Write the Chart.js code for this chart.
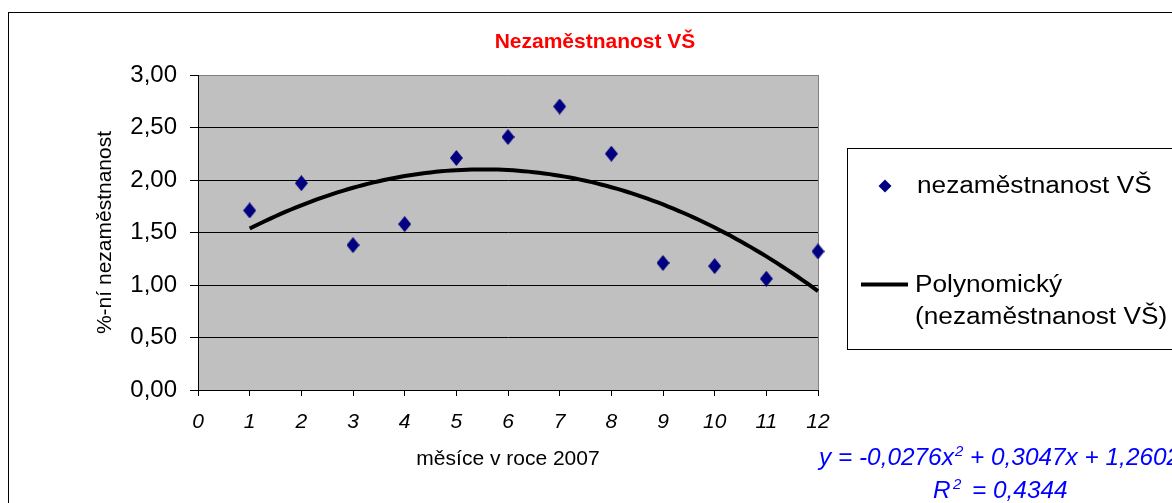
<!DOCTYPE html>
<html>
<head>
<meta charset="utf-8">
<script src="https://cdn.jsdelivr.net/npm/chart.js@4.4.1/dist/chart.umd.min.js"></script>
<style>
  html, body { margin: 0; padding: 0; background: #fff; }
</style>
</head>
<body>
<canvas id="unempChart" width="1172" height="503"></canvas>
<script>
// data
var months = [1, 2, 3, 4, 5, 6, 7, 8, 9, 10, 11, 12];
var unemployment = [1.71, 1.97, 1.38, 1.58, 2.21, 2.41, 2.70, 2.25, 1.21, 1.18, 1.06, 1.32];
// polynomial trend printed on the chart: a*x^2 + b*x + c
var trendCoefs = [-0.0276, 0.3047, 1.2602];
var trendR2 = '0,4344';
var xTicks = [0, 1, 2, 3, 4, 5, 6, 7, 8, 9, 10, 11, 12];
var yTicks = [0, 0.5, 1, 1.5, 2, 2.5, 3];

var FONT = "'Liberation Sans', Arial, sans-serif";
Chart.defaults.font.family = FONT;
Chart.defaults.color = '#000';

var points = months.map(function (m, i) { return { x: m, y: unemployment[i] }; });

var trend = [];
for (var t = months[0]; t <= months[months.length - 1] + 1e-9; t += 0.1) {
  trend.push({ x: t, y: trendCoefs[0] * t * t + trendCoefs[1] * t + trendCoefs[2] });
}

function diamond(w, h, color) {
  var c = document.createElement('canvas');
  c.width = w; c.height = h;
  var g = c.getContext('2d');
  g.fillStyle = color;
  g.beginPath();
  g.moveTo(w / 2, 0); g.lineTo(w, h / 2); g.lineTo(w / 2, h); g.lineTo(0, h / 2);
  g.closePath(); g.fill();
  return c;
}

// text a bit wider than the font, like the original
function wideText(ctx, txt, x, y, sx) {
  ctx.save();
  ctx.translate(x, y);
  ctx.scale(sx, 1);
  ctx.fillText(txt, 0, 0);
  ctx.restore();
}

var decor = {
  id: 'decor',
  beforeDraw: function (chart) {
    var ctx = chart.ctx, a = chart.chartArea;
    ctx.save();
    ctx.fillStyle = '#fff';
    ctx.fillRect(0, 0, chart.width, chart.height);
    ctx.strokeStyle = '#000';
    ctx.lineWidth = 1;
    ctx.strokeRect(8.5, 12.5, 1400, 700);
    ctx.fillStyle = '#c0c0c0';
    ctx.fillRect(a.left, a.top, a.right - a.left, a.bottom - a.top);
    ctx.restore();
  },
  beforeDatasetsDraw: function (chart) {
    var ctx = chart.ctx, a = chart.chartArea;
    ctx.save();
    ctx.strokeStyle = '#808080';
    ctx.lineWidth = 1;
    ctx.beginPath();
    ctx.moveTo(Math.round(a.right) + 0.5, a.top);
    ctx.lineTo(Math.round(a.right) + 0.5, a.bottom);
    ctx.stroke();
    ctx.restore();
  },
  afterDraw: function (chart) {
    var ctx = chart.ctx;
    ctx.save();
    // title
    ctx.fillStyle = '#ff0000';
    ctx.font = 'bold 21px ' + FONT;
    ctx.textAlign = 'center';
    ctx.textBaseline = 'middle';
    ctx.fillText('Nezaměstnanost VŠ', 595, 42);

    // legend
    ctx.strokeStyle = '#000';
    ctx.lineWidth = 1;
    ctx.strokeRect(847.5, 148.5, 500, 201);
    ctx.fillStyle = '#000080';
    ctx.beginPath();
    ctx.moveTo(885, 179.5); ctx.lineTo(891.5, 186); ctx.lineTo(885, 192.5); ctx.lineTo(878.5, 186);
    ctx.closePath(); ctx.fill();
    ctx.fillStyle = '#000';
    ctx.font = '23px ' + FONT;
    ctx.textAlign = 'left';
    wideText(ctx, 'nezaměstnanost VŠ', 917, 187, 1.14);
    ctx.lineWidth = 4;
    ctx.beginPath();
    ctx.moveTo(861, 284.5); ctx.lineTo(908, 284.5);
    ctx.stroke();
    wideText(ctx, 'Polynomický', 915, 286, 1.14);
    wideText(ctx, '(nezaměstnanost VŠ)', 915, 318, 1.14);

    // trend equation
    ctx.fillStyle = '#0000ff';
    ctx.textBaseline = 'alphabetic';
    ctx.font = 'italic 23px ' + FONT;
    wideText(ctx, 'y = ' + String(trendCoefs[0]).replace('.', ',') + 'x', 819, 465, 1.06);
    wideText(ctx, '+ ' + String(trendCoefs[1]).replace('.', ',') + 'x + ' + String(trendCoefs[2]).replace('.', ','), 970, 465, 1.06);
    wideText(ctx, 'R', 933, 498, 1.06);
    wideText(ctx, '= ' + trendR2, 972, 498, 1.06);
    ctx.font = 'italic 15px ' + FONT;
    ctx.fillText('2', 955, 456);
    ctx.fillText('2', 953, 489);
    ctx.restore();
  }
};

var ctx = document.getElementById('unempChart');
var chart = new Chart(ctx, {
  type: 'scatter',
  data: {
    datasets: [{
      label: 'nezaměstnanost VŠ',
      data: points,
      pointStyle: diamond(13, 16, '#000080'),
      pointRadius: 8,
      clip: false,
      order: 1
    }, {
      type: 'line',
      label: 'Polynomický (nezaměstnanost VŠ)',
      data: trend,
      showLine: true,
      borderColor: '#000',
      borderWidth: 4,
      pointRadius: 0,
      fill: false,
      tension: 0,
      clip: false,
      order: 2
    }]
  },
  options: {
    responsive: false,
    animation: false,
    layout: { padding: { top: 75, right: 354, left: 0, bottom: 0 } },
    plugins: {
      legend: { display: false },
      title: { display: false },
      tooltip: { enabled: false }
    },
    scales: {
      x: {
        type: 'linear',
        min: xTicks[0],
        max: xTicks[xTicks.length - 1],
        afterBuildTicks: function (s) { s.ticks = xTicks.map(function (v) { return { value: v }; }); },
        afterFit: function (s) { s.height = 113; },
        grid: { drawOnChartArea: false, drawTicks: true, tickLength: 6, color: '#000', tickColor: '#000' },
        border: { color: '#000', width: 1 },
        ticks: { padding: 14, font: { size: 21, style: 'italic' }, color: '#000', maxRotation: 0 },
        title: { display: true, text: 'měsíce v roce 2007', font: { size: 21 }, color: '#000', padding: { top: 0, bottom: 31 } }
      },
      y: {
        min: yTicks[0],
        max: yTicks[yTicks.length - 1],
        afterBuildTicks: function (s) { s.ticks = yTicks.map(function (v) { return { value: v }; }); },
        afterFit: function (s) { s.width = 198; },
        grid: {
          color: function (c) { return c.tick && c.tick.value === 3 ? '#808080' : '#000'; },
          tickColor: '#000',
          tickLength: 8,
          lineWidth: 1
        },
        border: { color: '#000', width: 1 },
        ticks: {
          padding: 13,
          font: { size: 24 },
          color: '#000',
          callback: function (v) { return v.toFixed(2).replace('.', ','); }
        },
        title: { display: true, text: '%-ní nezaměstnanost', font: { size: 21 }, color: '#000', padding: { top: 93, bottom: 0 } }
      }
    }
  },
  plugins: [decor]
});
</script>
</body>
</html>
